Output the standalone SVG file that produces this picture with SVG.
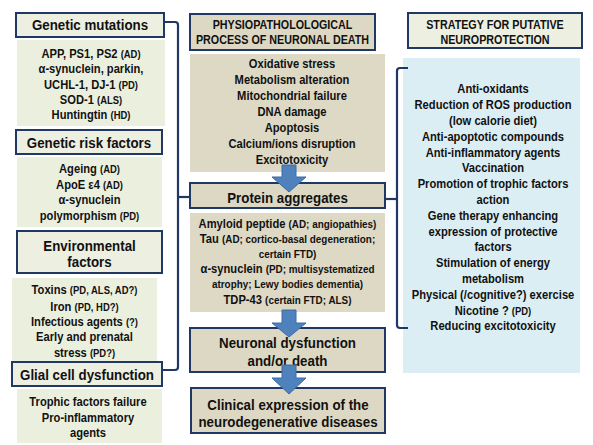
<svg xmlns="http://www.w3.org/2000/svg" width="593" height="445" viewBox="0 0 593 445">
<style>
.hb{fill:#edefe0;stroke:#1f3864;stroke-width:2}
.gb{fill:#ebf0de}
.tb{fill:#ddd9c4}
.th{fill:#ddd8c3;stroke:#1f3864;stroke-width:2}
.bb{fill:#dbeef4}
text{font-family:"Liberation Sans",Arial,sans-serif;font-weight:bold;fill:#111;text-anchor:middle;font-size:13px}
.h{font-size:15.5px}
.c{font-size:12.5px}
.s{font-size:11px}
.m{font-size:11.5px}
.br{fill:none;stroke:#1f3864;stroke-width:2.2}
.ar{fill:#4f81bd;stroke:#3d6ca3;stroke-width:1}
</style>
<rect width="593" height="445" fill="#fff"/>
<g id="genetic-mutations">
<rect class="hb" x="16" y="13" width="148" height="24"/>
<g transform="translate(90,0) scale(0.86,1)"><text class="h" x="0" y="30">Genetic mutations</text></g>
</g>
<g id="genetic-mutations-list">
<rect class="gb" x="17" y="40" width="148" height="86"/>
<g transform="translate(91,0) scale(0.86,1)">
<text x="0" y="58">APP, PS1, PS2 <tspan class="s">(AD)</tspan></text>
<text x="0" y="73.5">α-synuclein, parkin,</text>
<text x="0" y="89">UCHL-1, DJ-1 <tspan class="s">(PD)</tspan></text>
<text x="0" y="104">SOD-1 <tspan class="s">(ALS)</tspan></text>
<text x="0" y="119.5">Huntingtin <tspan class="s">(HD)</tspan></text>
</g>
</g>
<g id="genetic-risk">
<rect class="hb" x="16" y="130" width="146" height="24"/>
<g transform="translate(89,0) scale(0.86,1)"><text class="h" x="0" y="148">Genetic risk factors</text></g>
</g>
<g id="genetic-risk-list">
<rect class="gb" x="17" y="157" width="145" height="70"/>
<g transform="translate(89.5,0) scale(0.86,1)">
<text x="0" y="173.5">Ageing <tspan class="s">(AD)</tspan></text>
<text x="0" y="189.5">ApoE ε4 <tspan class="s">(AD)</tspan></text>
<text x="0" y="204.5">α-synuclein</text>
<text x="0" y="220.5">polymorphism <tspan class="s">(PD)</tspan></text>
</g>
</g>
<g id="environmental">
<rect class="hb" x="17" y="231" width="145" height="42"/>
<g transform="translate(89.5,0) scale(0.86,1)">
<text class="h" x="0" y="251">Environmental</text>
<text class="h" x="0" y="267">factors</text>
</g>
</g>
<g id="environmental-list">
<rect class="gb" x="12" y="278" width="145" height="84"/>
<g transform="translate(84.5,0) scale(0.86,1)">
<text x="0" y="294.5">Toxins <tspan class="s">(PD, ALS, AD?)</tspan></text>
<text x="0" y="311.5">Iron <tspan class="s">(PD, HD?)</tspan></text>
<text x="0" y="326.5">Infectious agents <tspan class="s">(?)</tspan></text>
<text x="0" y="341.5">Early and prenatal</text>
<text x="0" y="357.5">stress <tspan class="s">(PD?)</tspan></text>
</g>
</g>
<g id="glial">
<rect class="hb" x="12" y="362" width="150" height="24"/>
<g transform="translate(87,0) scale(0.86,1)"><text class="h" x="0" y="380">Glial cell dysfunction</text></g>
</g>
<g id="glial-list">
<rect class="gb" x="17" y="389" width="145" height="54"/>
<g transform="translate(88,0) scale(0.86,1)">
<text x="0" y="406.5">Trophic factors failure</text>
<text x="0" y="422.5">Pro-inflammatory</text>
<text x="0" y="437.5">agents</text>
</g>
</g>
<g id="physio-header">
<rect class="th" x="190" y="14" width="185" height="36"/>
<g transform="translate(282.5,0) scale(0.86,1)">
<text class="c" x="0" y="29.5">PHYSIOPATHOLOLOGICAL</text>
<text class="c" x="0" y="44.5">PROCESS OF NEURONAL DEATH</text>
</g>
</g>
<g id="physio-list">
<rect class="tb" x="190" y="54" width="195" height="118"/>
<g transform="translate(292,0) scale(0.86,1)">
<text x="0" y="68.5">Oxidative stress</text>
<text x="0" y="84.5">Metabolism alteration</text>
<text x="0" y="100.5">Mitochondrial failure</text>
<text x="0" y="116.5">DNA damage</text>
<text x="0" y="132.5">Apoptosis</text>
<text x="0" y="148.5">Calcium/ions disruption</text>
<text x="0" y="164.5">Excitotoxicity</text>
</g>
</g>
<g id="protein-aggregates">
<rect class="th" x="190" y="183" width="195" height="25"/>
<g transform="translate(287.5,0) scale(0.86,1)"><text class="h" x="0" y="203.5">Protein aggregates</text></g>
</g>
<g id="protein-list">
<rect class="tb" x="190" y="213" width="195" height="99"/>
<g transform="translate(287.5,0) scale(0.86,1)">
<text x="0" y="228.5">Amyloid peptide <tspan class="m">(AD; angiopathies)</tspan></text>
<text x="0" y="243.5">Tau <tspan class="m">(AD; cortico-basal degeneration;</tspan></text>
<text class="m" x="0" y="258.5">certain FTD)</text>
<text x="0" y="273.5">α-synuclein <tspan class="m">(PD; multisystematized</tspan></text>
<text class="m" x="0" y="288.5">atrophy; Lewy bodies dementia)</text>
<text x="0" y="304">TDP-43 <tspan class="m">(certain FTD; ALS)</tspan></text>
</g>
</g>
<g id="neuronal-dysfunction">
<rect class="th" x="190" y="328" width="195" height="44"/>
<g transform="translate(287.5,0) scale(0.86,1)">
<text class="h" x="0" y="348">Neuronal dysfunction</text>
<text class="h" x="0" y="366">and/or death</text>
</g>
</g>
<g id="clinical-expression">
<rect class="th" x="191" y="388" width="194" height="45" stroke-width="2.6"/>
<g transform="translate(288,0) scale(0.86,1)">
<text class="h" x="0" y="410">Clinical expression of the</text>
<text class="h" x="0" y="427">neurodegenerative diseases</text>
</g>
</g>
<g id="strategy-header">
<rect class="hb" x="408" y="13" width="174" height="35"/>
<g transform="translate(495,0) scale(0.86,1)">
<text class="c" x="0" y="29.5">STRATEGY FOR PUTATIVE</text>
<text class="c" x="0" y="44.5">NEUROPROTECTION</text>
</g>
</g>
<g id="strategy-list">
<rect class="bb" x="403" y="58" width="177" height="315"/>
<g transform="translate(493,0) scale(0.86,1)">
<text x="0" y="93.5">Anti-oxidants</text>
<text x="0" y="109.3">Reduction of ROS production</text>
<text x="0" y="125.1">(low calorie diet)</text>
<text x="0" y="140.9">Anti-apoptotic compounds</text>
<text x="0" y="156.7">Anti-inflammatory agents</text>
<text x="0" y="172.5">Vaccination</text>
<text x="0" y="188.3">Promotion of trophic factors</text>
<text x="0" y="204.1">action</text>
<text x="0" y="219.9">Gene therapy enhancing</text>
<text x="0" y="235.7">expression of protective</text>
<text x="0" y="251.5">factors</text>
<text x="0" y="267.3">Stimulation of energy</text>
<text x="0" y="283.1">metabolism</text>
<text x="0" y="298.9">Physical (/cognitive?) exercise</text>
<text x="0" y="314.7">Nicotine ? <tspan class="s">(PD)</tspan></text>
<text x="0" y="330.5">Reducing excitotoxicity</text>
</g>
</g>
<g id="connectors">
<path class="br" d="M164,22 H175 Q178,22 178,25 V367 Q178,370 175,370 H163"/>
<path class="br" d="M178,197 H190"/>
<path class="br" d="M408,68 H400 Q397,68 397,71 V325 Q397,328 400,328 H408"/>
<path class="br" d="M386,199 H397"/>
<path class="ar" d="M282,165 H296 V177 H306 L289,192 L272,177 H282 Z"/>
<path class="ar" d="M282,310 H296 V323 H306 L289,337 L272,323 H282 Z"/>
<path class="ar" d="M282,365 H296 V378 H306 L289,394 L272,378 H282 Z"/>
</g>
</svg>
